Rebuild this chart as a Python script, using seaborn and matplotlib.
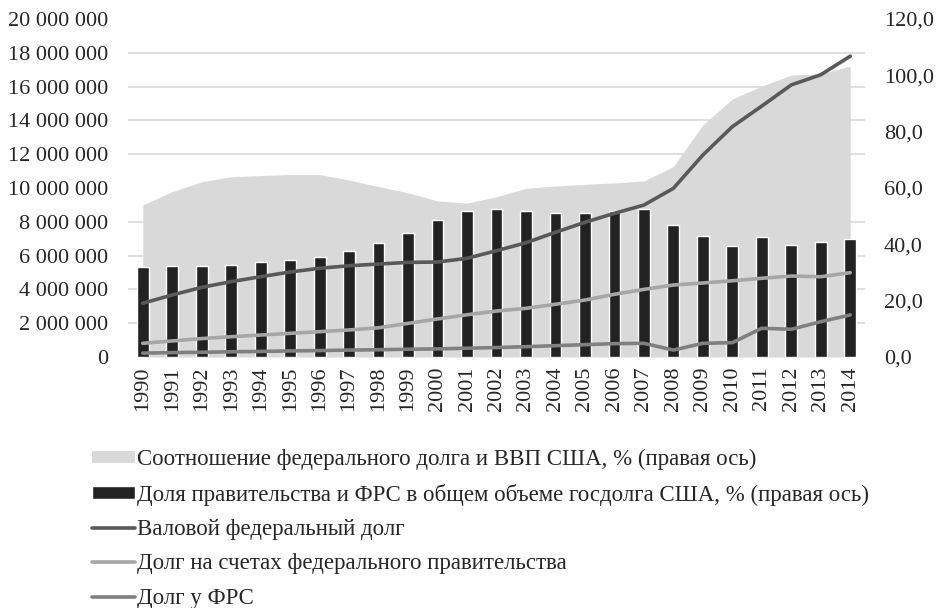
import numpy as np
import pandas as pd
import matplotlib
matplotlib.use("Agg")
import matplotlib.pyplot as plt
import seaborn as sns
from matplotlib.ticker import FuncFormatter

# -------------------------------------
# Data
# -------------------------------------
years = [str(y) for y in range(1990, 2015)]

# right axis, %
debt_to_gdp = [54.0, 58.7, 62.2, 64.0, 64.4, 64.8, 64.8, 62.8, 60.5, 58.3,
               55.4, 54.6, 56.9, 59.9, 60.7, 61.3, 61.8, 62.5, 67.6, 82.4,
               91.6, 96.2, 100.1, 100.5, 103.3]
gov_fed_share = [32.1, 32.4, 32.4, 32.7, 33.7, 34.3, 35.4, 37.6, 40.4, 43.9,
                 48.6, 51.8, 52.7, 51.9, 51.2, 51.2, 51.9, 52.5, 46.8, 42.8,
                 39.3, 42.6, 39.9, 40.7, 41.9]

# left axis, mln $
gross_debt = [3180000, 3670000, 4120000, 4460000, 4750000, 5030000, 5250000,
              5400000, 5500000, 5600000, 5620000, 5840000, 6290000, 6760000,
              7380000, 7970000, 8500000, 8990000, 9980000, 11950000, 13630000,
              14850000, 16100000, 16700000, 17800000]
intragov_debt = [810000, 950000, 1090000, 1200000, 1300000, 1400000, 1500000,
                 1600000, 1730000, 1990000, 2250000, 2500000, 2720000, 2880000,
                 3120000, 3370000, 3710000, 4000000, 4260000, 4380000, 4510000,
                 4660000, 4790000, 4750000, 4990000]
fed_debt = [230000, 260000, 280000, 310000, 330000, 360000, 380000, 410000,
            430000, 460000, 480000, 520000, 560000, 610000, 670000, 730000,
            790000, 810000, 410000, 810000, 850000, 1700000, 1640000, 2090000,
            2490000]

labels = [
    "Соотношение федерального долга и ВВП США, % (правая ось)",
    "Доля правительства и ФРС в общем объеме госдолга США, % (правая ось)",
    "Валовой федеральный долг",
    "Долг на счетах федерального правительства",
    "Долг у ФРС",
]

df = pd.DataFrame({
    "year": years,
    "pos": np.arange(len(years)),
    "debt_to_gdp": debt_to_gdp,
    "share": gov_fed_share,
    "gross": gross_debt,
    "intragov": intragov_debt,
    "fed": fed_debt,
})

# -------------------------------------
# Style
# -------------------------------------
sns.set_style("white")
plt.rcParams["font.family"] = ["Liberation Serif", "DejaVu Serif"]
FS = 16
LEG_FS = 16.5

fig = plt.figure(figsize=(9.38, 6.08), dpi=100)
ax = fig.add_axes([128 / 938, 1 - 357 / 608, (865 - 128) / 938, (357 - 19) / 608])

# area + bars on the percent axis (drawn underneath)
ax.fill_between(df["pos"], df["debt_to_gdp"], color="#d9d9d9", lw=0,
                label=labels[0], zorder=1)
sns.barplot(data=df, x="year", y="share", color="#222222", saturation=1,
            width=0.4, label=labels[1], ax=ax, zorder=2)
if ax.get_legend() is not None:
    ax.get_legend().remove()

# debt lines on the absolute axis (drawn on top)
ax2 = ax.twinx()
line_colors = ["#595959", "#a6a6a6", "#808080"]
for col, c, lab in zip(["gross", "intragov", "fed"], line_colors, labels[2:]):
    sns.lineplot(data=df, x="pos", y=col, color=c, lw=2.6, label=lab,
                 solid_capstyle="round", ax=ax2)
ax2.get_legend().remove()

# percent axis on the right, with the gridlines
ax.set_ylim(0, 120)
ax.set_xlim(-0.5, len(years) - 0.5)
ax.set_yticks(np.arange(0, 121, 20))
ax.set_yticks(np.linspace(0, 120, 11), minor=True)
ax.yaxis.set_major_formatter(FuncFormatter(lambda v, p: f"{v:.1f}".replace(".", ",")))
ax.yaxis.tick_right()
ax.grid(False)
ax.grid(True, which="minor", axis="y", color="#d9d9d9", lw=1.2, zorder=0)
ax.set_axisbelow(True)
ax.tick_params(axis="y", which="both", length=0, pad=13.5, labelsize=FS)
ax.tick_params(axis="x", length=0, pad=7, labelsize=FS, labelrotation=90)
ax.set_xlabel("")
ax.set_ylabel("")
for s in ax.spines.values():
    s.set_visible(False)

# absolute axis on the left
ax2.set_ylim(0, 20000000)
ax2.set_yticks(np.arange(0, 20000001, 2000000))
ax2.yaxis.set_major_formatter(FuncFormatter(lambda v, p: f"{int(v):,}".replace(",", " ")))
ax2.yaxis.tick_left()
ax2.tick_params(axis="y", length=0, pad=14.5, labelsize=FS)
ax2.set_xlabel("")
ax2.set_ylabel("")
ax2.grid(False)
for s in ax2.spines.values():
    s.set_visible(False)

# legend below the chart
h1, l1 = ax.get_legend_handles_labels()
h2, l2 = ax2.get_legend_handles_labels()
fig.legend(h1 + h2, l1 + l2, loc="upper left",
           bbox_to_anchor=(92 / 938, 1 - 449 / 608), frameon=False,
           fontsize=LEG_FS, borderpad=0, borderaxespad=0, labelspacing=0.585,
           handlelength=1.88, handleheight=0.45, handletextpad=0.1)

plt.savefig("out.png", dpi=100)
